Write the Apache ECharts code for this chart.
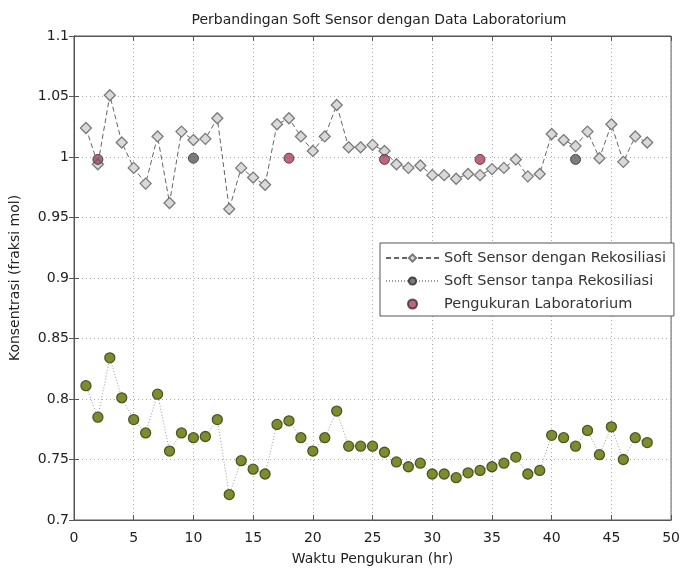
<!DOCTYPE html>
<html>
<head>
<meta charset="utf-8">
<script src="https://cdn.jsdelivr.net/npm/echarts@6/dist/echarts.min.js"></script>
<style>html,body{margin:0;padding:0;background:#fff;}#c{width:683px;height:571px;}</style>
</head>
<body>
<div id="c"></div>
<script>
const hours = [1,2,3,4,5,6,7,8,9,10,11,12,13,14,15,16,17,18,19,20,21,22,23,24,25,26,27,28,29,30,31,32,33,34,35,36,37,38,39,40,41,42,43,44,45,46,47,48];
const withRecon = [1.024,0.994,1.051,1.012,0.991,0.978,1.017,0.962,1.021,1.014,1.015,1.032,0.957,0.991,0.983,0.977,1.027,1.032,1.017,1.005,1.017,1.043,1.008,1.008,1.010,1.005,0.994,0.991,0.993,0.985,0.985,0.982,0.986,0.985,0.990,0.991,0.998,0.984,0.986,1.019,1.014,1.009,1.021,0.999,1.027,0.996,1.017,1.012];
const withoutRecon = [0.811,0.785,0.834,0.801,0.783,0.772,0.804,0.757,0.772,0.768,0.769,0.783,0.721,0.749,0.742,0.738,0.779,0.782,0.768,0.757,0.768,0.790,0.761,0.761,0.761,0.756,0.748,0.744,0.747,0.738,0.738,0.735,0.739,0.741,0.744,0.747,0.752,0.738,0.741,0.770,0.768,0.761,0.774,0.754,0.777,0.750,0.768,0.764];
const labHours = [2,10,18,26,34,42];
const labValues = [0.998,0.999,0.999,0.998,0.998,0.998];
const seriesNames = ['Soft Sensor dengan Rekosiliasi','Soft Sensor tanpa Rekosiliasi','Pengukuran Laboratorium'];

// marker colours of the lab points as they appear in the picture (style only)
const labColors = ['#8a4a58','#5c5c5c','#b0405a','#b0405a','#b0405a','#5c5c5c'];

const pairs = (xs, ys) => xs.map((x, i) => [x, ys[i]]);
const font = 'DejaVu Sans, Liberation Sans, sans-serif';
const gridLine = {show: true, lineStyle: {color: '#aaa', type: [1, 3], width: 1}};
const axisCol = '#555';

const chart = echarts.init(document.getElementById('c'), null, {renderer: 'canvas'});
chart.setOption({
  backgroundColor: '#fff',
  animation: false,
  title: {
    text: 'Perbandingan Soft Sensor dengan Data Laboratorium',
    left: 374, top: 8, textAlign: 'center',
    textStyle: {fontFamily: font, fontSize: 14, fontWeight: 'normal', color: '#222'}
  },
  grid: {left: 73, right: 10, top: 36, bottom: 47, show: true, borderColor: axisCol, borderWidth: 1, backgroundColor: '#fff'},
  legend: {
    orient: 'vertical', left: 380, top: 243,
    backgroundColor: '#fff', borderColor: '#555', borderWidth: 1,
    padding: [7, 8, 4, 5], itemGap: 7, itemWidth: 53, itemHeight: 9,
    textStyle: {fontFamily: font, fontSize: 14.5, color: '#333', lineHeight: 16},
    data: [
      {name: seriesNames[0]},
      {name: seriesNames[1], itemStyle: {color: '#7a7a7a', borderColor: '#444'}},
      {name: seriesNames[2], itemStyle: {color: '#b0405a', borderColor: '#3a2a2e'}}
    ]
  },
  xAxis: [{
    type: 'value', min: 0, max: 50, interval: 5,
    name: 'Waktu Pengukuran (hr)', nameLocation: 'middle', nameGap: 32,
    nameTextStyle: {fontFamily: font, fontSize: 14, color: '#222'},
    axisLine: {show: true, lineStyle: {color: axisCol}},
    axisTick: {show: true, inside: true, length: 5, lineStyle: {color: axisCol}},
    axisLabel: {fontFamily: font, fontSize: 14, color: '#222', margin: 11},
    splitLine: gridLine
  }, {
    type: 'value', min: 0, max: 50, interval: 5, position: 'top',
    axisLine: {show: true, lineStyle: {color: axisCol}},
    axisTick: {show: true, inside: true, length: 5, lineStyle: {color: axisCol}},
    axisLabel: {show: false}, splitLine: {show: false}
  }],
  yAxis: [{
    type: 'value', min: 0.7, max: 1.1, interval: 0.05,
    name: 'Konsentrasi (fraksi mol)', nameLocation: 'middle', nameGap: 52,
    nameTextStyle: {fontFamily: font, fontSize: 14, color: '#222'},
    axisLine: {show: true, lineStyle: {color: axisCol}},
    axisTick: {show: true, inside: true, length: 5, lineStyle: {color: axisCol}},
    axisLabel: {fontFamily: font, fontSize: 14, color: '#222', margin: 5},
    splitLine: gridLine
  }, {
    type: 'value', min: 0.7, max: 1.1, interval: 0.05, position: 'right',
    axisLine: {show: true, lineStyle: {color: axisCol}},
    axisTick: {show: true, inside: true, length: 5, lineStyle: {color: axisCol}},
    axisLabel: {show: false}, splitLine: {show: false}
  }],
  series: [{
    name: seriesNames[0], type: 'line', data: pairs(hours, withRecon),
    symbol: 'diamond', symbolSize: 11, showAllSymbol: true,
    lineStyle: {color: '#666', width: 1, type: [5, 3]},
    itemStyle: {color: '#d9d9d9', borderColor: '#7a7a7a', borderWidth: 1.3},
    z: 3
  }, {
    name: seriesNames[1], type: 'line', data: pairs(hours, withoutRecon),
    symbol: 'circle', symbolSize: 10, showAllSymbol: true,
    lineStyle: {color: '#999', width: 1, type: [1, 2]},
    itemStyle: {color: '#7d8c2e', borderColor: '#4d5620', borderWidth: 1.3},
    z: 3
  }, {
    name: seriesNames[2], type: 'scatter', data: pairs(labHours, labValues),
    symbol: 'circle', symbolSize: 10,
    itemStyle: {
      color: (p) => labColors[p.dataIndex],
      borderColor: '#3a2a2e', borderWidth: 1
    },
    z: 4
  }]
});
</script>
</body>
</html>
